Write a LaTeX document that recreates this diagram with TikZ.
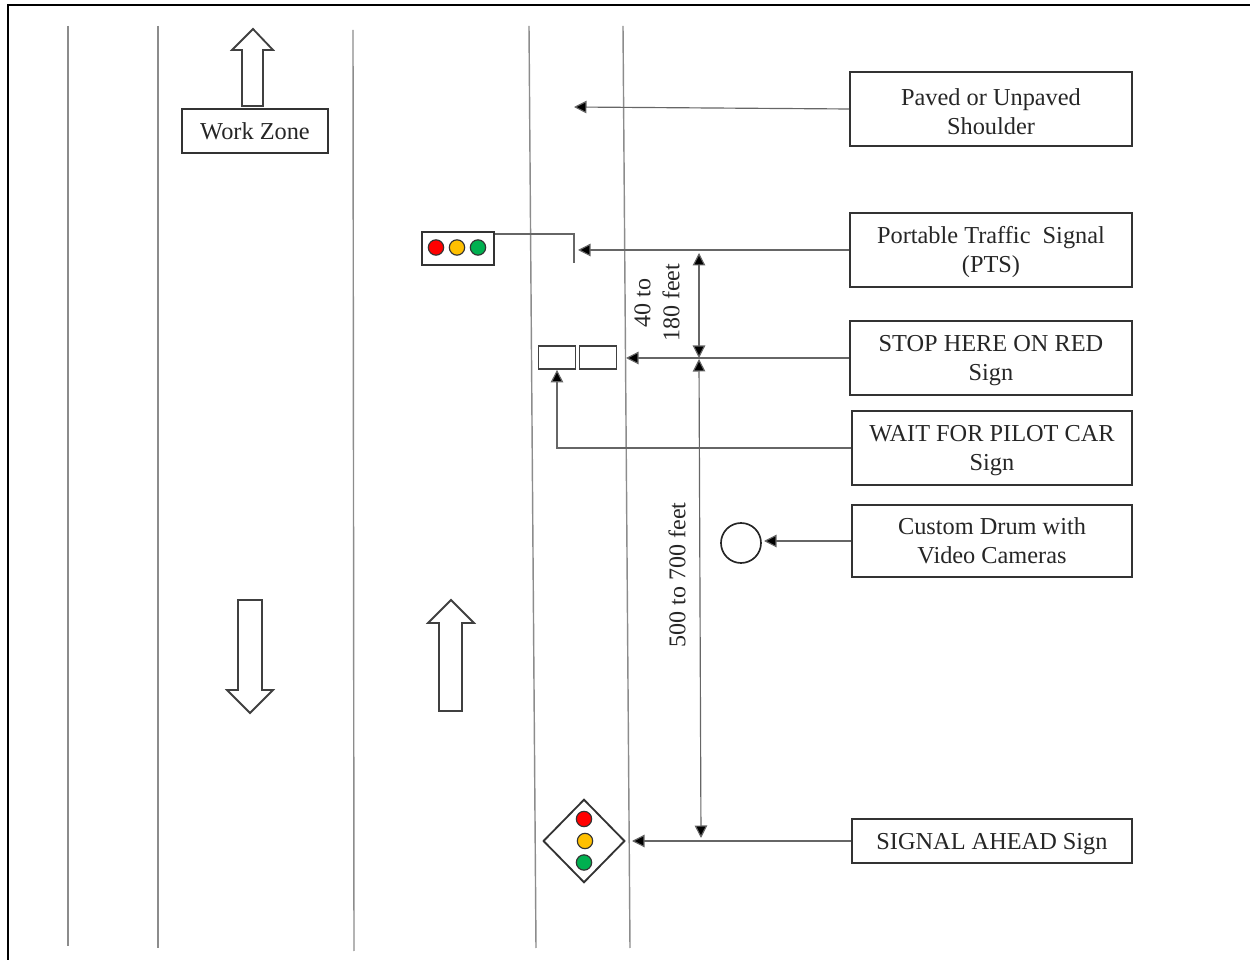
\documentclass[tikz,border=0pt]{standalone}
\usepackage{fontspec}
\setmainfont{Liberation Serif}
\usepackage{xcolor}
\usetikzlibrary{positioning,arrows.meta,calc,shapes.geometric}
\definecolor{sigred}{HTML}{FF0000}
\definecolor{sigamber}{HTML}{FFC000}
\definecolor{siggreen}{HTML}{00B050}
\newcommand{\lowerline}{\rule{0pt}{12.8pt}}
\tikzset{
  labelbox/.style={draw=black!80,line width=1.1pt,align=center,inner sep=0pt,font=\fontsize{14.6}{17.4}\selectfont,text=black!85},
  roadline/.style={draw=black!45,line width=0.85pt},
  leader/.style={draw=black!60,line width=0.7pt,-{Triangle[length=7.5pt,width=7.5pt,fill=black]}},
  span/.style={draw=black!60,line width=0.7pt,{Triangle[length=7.5pt,width=7.5pt,fill=black]}-{Triangle[length=7.5pt,width=7.5pt,fill=black]}},
  blockarrow/.style={draw=black!75,line width=1.1pt,fill=white,line join=miter},
  lamp/.style={circle,draw=black!80,line width=0.7pt,minimum size=9.2pt,inner sep=0pt},
  dimtext/.style={rotate=90,align=center,font=\fontsize{14.4}{17.4}\selectfont,text=black!85}
}
\begin{document}
\begin{tikzpicture}[x=0.6pt,y=-0.6pt]
\useasboundingbox (0,0) rectangle (1250,960);
% frame
\draw[line width=1.1pt] (8,960) -- (8,5) -- (1250,5);
% road lines
\draw[roadline] (68,26) -- (68,946);
\draw[roadline] (158,26) -- (158,948);
\draw[roadline] (353,30) -- (354,951);
\draw[roadline] (529,26) -- (536,948);
\draw[roadline] (623,26) -- (630,948);
% traffic direction
\draw[blockarrow] (242,106) -- (242,50) -- (232,50) -- (253,29) -- (273,50) -- (263,50) -- (263,106) -- cycle;
\draw[blockarrow] (238,600) -- (262,600) -- (262,690) -- (273,690) -- (250,713) -- (227,690) -- (238,690) -- cycle;
\draw[blockarrow] (439,711) -- (439,623) -- (428,623) -- (451,600) -- (474,623) -- (462,623) -- (462,711) -- cycle;
\node[labelbox,minimum width=88pt,minimum height=26.4pt] (workzone) at (255,131) {Work Zone};
% right hand labels
\node[labelbox,minimum width=169.2pt,minimum height=44.4pt] (shoulder) at (991,109) {\lowerline Paved or Unpaved\\Shoulder};
\node[labelbox,minimum width=169.2pt,minimum height=44.4pt] (pts) at (991,250) {\lowerline Portable Traffic\ \ Signal\\(PTS)};
\node[labelbox,minimum width=169.2pt,minimum height=44.4pt] (stophere) at (991,358) {\lowerline STOP HERE ON RED\\Sign};
\node[labelbox,minimum width=168pt,minimum height=44.4pt] (waitpilot) at (992,448) {\lowerline WAIT FOR PILOT CAR\\Sign};
\node[labelbox,minimum width=168pt,minimum height=43.2pt] (drumlabel) at (992,541) {Custom Drum with\\Video Cameras};
\node[labelbox,minimum width=168pt,minimum height=26.4pt] (signahead) at (992,841) {\lowerline SIGNAL AHEAD Sign};
% signal head and mast arm
\node[draw=black!80,line width=1.1pt,minimum width=43.2pt,minimum height=19.8pt,inner sep=0pt] (signalhead) at (458,248.5) {};
\node[lamp,fill=sigred] (headred) at (436,247.5) {};
\node[lamp,fill=sigamber] (headamber) at (457,247.5) {};
\node[lamp,fill=siggreen] (headgreen) at (478,247.5) {};
\coordinate (armtop) at (574,234);
\coordinate (armend) at (574,263);
\draw[draw=black!60,line width=0.7pt] (signalhead.north east |- armtop) -- (armtop) -- (armend);
% stop signs
\node[draw=black!75,line width=1.1pt,minimum width=22.2pt,minimum height=13.8pt,inner sep=0pt] (signleft) at (557,357.5) {};
\node[draw=black!75,line width=1.1pt,minimum width=22.2pt,minimum height=13.8pt,inner sep=0pt] (signright) at (598,357.5) {};
% drum
\node[circle,draw=black!85,line width=1pt,minimum size=24pt,inner sep=0pt] (drum) at (741,543) {};
% signal ahead sign
\node[draw=black!80,line width=1.1pt,diamond,minimum width=49pt,minimum height=50pt,inner sep=0pt] (aheadsign) at (584,841) {};
\node[lamp,fill=sigred] (aheadred) at (584,819) {};
\node[lamp,fill=sigamber] (aheadamber) at (585,841) {};
\node[lamp,fill=siggreen] (aheadgreen) at (584,862.5) {};
% leaders
\coordinate (shouldertip) at (574,107);
\coordinate (ptstip) at (578,250);
\coordinate (stoptip) at (626,358);
\coordinate (aheadtip) at (632,841);
\coordinate (drumtip) at (764,541);
\draw[leader] (shoulder.west) -- (shouldertip);
\draw[leader] (pts.west) -- (ptstip);
\draw[leader] (stophere.west) -- (stoptip);
\draw[leader] (drumlabel.west) -- (drumtip);
\draw[leader] (signahead.west) -- (aheadtip);
\draw[leader] (waitpilot.west) -- (waitpilot.west -| signleft.south) -- (signleft.south);
% distances
\coordinate (spana) at (699,253);
\coordinate (spanb) at (699,358);
\coordinate (spanc) at (701,838);
\draw[span] (spana) -- (spanb);
\draw[span] ($(spanb)+(0,1)$) -- (spanc);
\node[dimtext] (shortdim) at (657,303) {40 to\\180 feet};
\node[dimtext] (longdim) at (677,575) {500 to 700 feet};
\end{tikzpicture}
\end{document}
